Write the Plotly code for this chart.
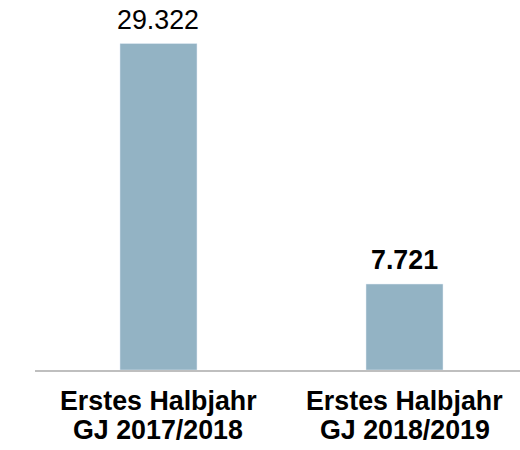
import plotly.graph_objects as go

categories = ["Erstes Halbjahr<br>GJ 2017/2018", "Erstes Halbjahr<br>GJ 2018/2019"]
values = [29322, 7721]
value_labels = ["29.322", "7.721"]

bar_color = "#93B3C4"
font_family = "Liberation Sans, Arial, sans-serif"
fsize = 26.8

fig = go.Figure()
fig.add_trace(go.Bar(
    x=categories, y=values, marker_color=bar_color, width=0.313,
    hoverinfo="skip",
))

annotations = []
for i, (cat, v, lab) in enumerate(zip(categories, values, value_labels)):
    txt = lab if i == 0 else "<b>" + lab + "</b>"
    annotations.append(dict(x=cat, y=v, xref="x", yref="y", text=txt, showarrow=False,
                            yanchor="middle", yshift=24, borderpad=0,
                            font=dict(family=font_family, size=fsize, color="#000000")))
    lines = cat.split("<br>")
    for j, line in enumerate(lines):
        annotations.append(dict(x=cat, y=0, xref="x", yref="y", text="<b>" + line + "</b>",
                                showarrow=False, yanchor="middle", yshift=-31 - 28.5 * j,
                                borderpad=0,
                                font=dict(family=font_family, size=fsize, color="#000000")))

fig.update_layout(
    width=520, height=450,
    margin=dict(l=35, r=0, t=0, b=80),
    paper_bgcolor="white", plot_bgcolor="white",
    showlegend=False,
    bargap=0,
    xaxis=dict(range=[-0.502, 1.4695], showticklabels=False, showgrid=False, zeroline=False,
               showline=True, linecolor="#BFBFBF", linewidth=1.5, ticks=""),
    yaxis=dict(range=[0, 33229], visible=False, showgrid=False, zeroline=False),
    annotations=annotations,
)

fig.write_html("out.html", config={"displayModeBar": False, "staticPlot": True},
               post_script="document.body.style.margin='0';document.body.style.overflow='hidden';")
